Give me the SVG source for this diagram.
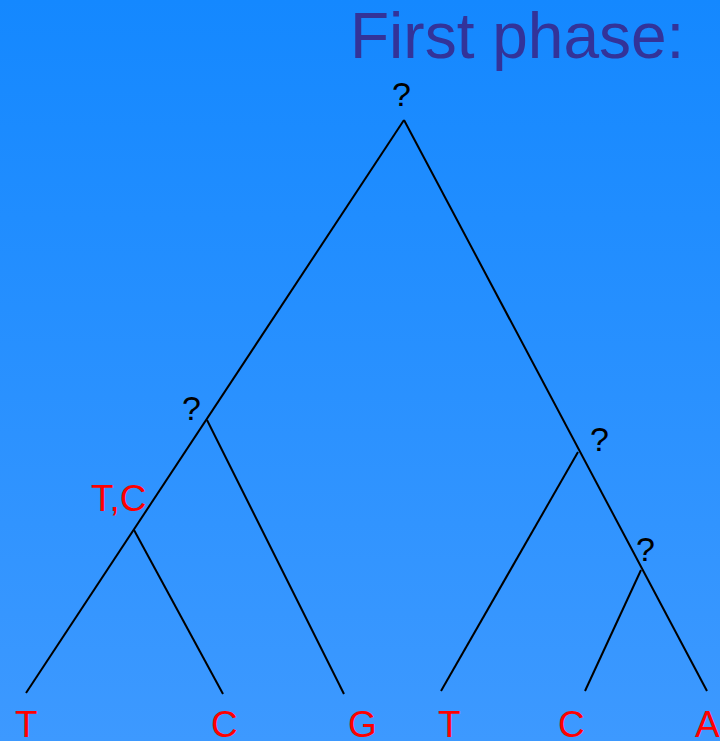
<svg xmlns="http://www.w3.org/2000/svg" width="720" height="741" viewBox="0 0 720 741">
<defs>
<linearGradient id="bg" x1="0" y1="0" x2="0" y2="1">
<stop offset="0" stop-color="#1488FF"/>
<stop offset="1" stop-color="#3D99FF"/>
</linearGradient>
<style>
.edge{stroke:#000;stroke-width:2;fill:none}
.q{font-family:"Liberation Sans",Arial,sans-serif;font-size:34px;fill:#000}
.leaf{font-family:"Liberation Sans",Arial,sans-serif;font-size:37px;fill:#FF0000}
.title{font-family:"Liberation Sans",Arial,sans-serif;font-size:64px;fill:#333399}
</style>
</defs>
<rect x="0" y="0" width="720" height="741" fill="url(#bg)"/>
<text class="title" x="350" y="58">First phase:</text>
<g id="connectors">
<line class="edge" x1="404" y1="120" x2="26" y2="693"/>
<line class="edge" x1="404" y1="120" x2="707" y2="691"/>
<line class="edge" x1="207" y1="420" x2="344" y2="694"/>
<line class="edge" x1="134" y1="530" x2="223" y2="694"/>
<line class="edge" x1="578" y1="452" x2="441" y2="691"/>
<line class="edge" x1="641" y1="570" x2="585" y2="691"/>
</g>
<g id="root"><text class="q" x="392" y="106">?</text></g>
<g id="left"><text class="q" x="182" y="420">?</text></g>
<g id="leftleft"><text class="leaf" x="91" y="511">T,C</text></g>
<g id="right"><text class="q" x="590" y="451">?</text></g>
<g id="rightright"><text class="q" x="636" y="561">?</text></g>
<g id="leaf1"><text class="leaf" x="15" y="737">T</text></g>
<g id="leaf2"><text class="leaf" x="211" y="737">C</text></g>
<g id="leaf3"><text class="leaf" x="348" y="737">G</text></g>
<g id="leaf4"><text class="leaf" x="438" y="737">T</text></g>
<g id="leaf5"><text class="leaf" x="558" y="737">C</text></g>
<g id="leaf6"><text class="leaf" x="695" y="737">A</text></g>
</svg>
